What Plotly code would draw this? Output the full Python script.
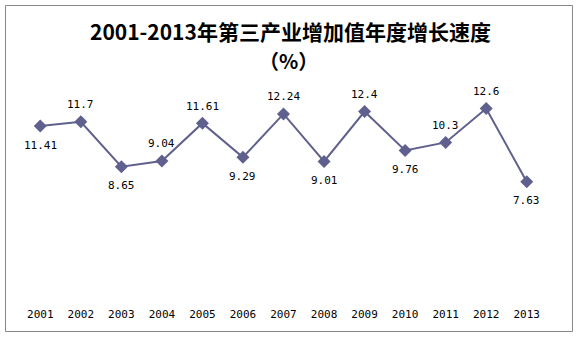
import plotly.graph_objects as go

years = ["2001","2002","2003","2004","2005","2006","2007","2008","2009","2010","2011","2012","2013"]
values = [11.41, 11.7, 8.65, 9.04, 11.61, 9.29, 12.24, 9.01, 12.4, 9.76, 10.3, 12.6, 7.63]
labels = ["11.41","11.7","8.65","9.04","11.61","9.29","12.24","9.01","12.4","9.76","10.3","12.6","7.63"]
above = [False, True, False, True, True, False, True, False, True, False, True, True, False]

W, H = 578, 337
L, R, T, B = 20, 31, 88, 43
pw, ph = W - L - R, H - T - B

fig = go.Figure()
fig.add_trace(go.Scatter(
    x=years, y=values, mode="lines+markers",
    line=dict(color="#60608F", width=2),
    marker=dict(symbol="diamond", size=10, color="#60608F"),
    cliponaxis=False, showlegend=False,
))

def px(x): return (x - L) / pw
def py(y): return (H - B - y) / ph

annotations = [
    dict(x=i, y=v, xref="x", yref="y", text=t, showarrow=False,
         xanchor="center", yanchor="middle", yshift=(17 if a else -19),
         font=dict(family="DejaVu Sans Mono", size=11, color="#000000"))
    for i, (v, t, a) in enumerate(zip(values, labels, above))
]
annotations += [
    dict(text="<b>2001-2013年第三产业增加值年度增长速度</b>", xref="paper", yref="paper",
         x=px(290), y=py(31), showarrow=False, xanchor="center", yanchor="middle",
         font=dict(family="Noto Sans CJK SC", size=21, color="#000000")),
    dict(text="<b>（%）</b>", xref="paper", yref="paper",
         x=px(288), y=py(60), showarrow=False, xanchor="center", yanchor="middle",
         font=dict(family="Noto Sans CJK SC", size=20, color="#000000")),
]

fig.update_layout(
    width=W, height=H,
    margin=dict(l=L, r=R, t=T, b=B),
    paper_bgcolor="white", plot_bgcolor="white",
    xaxis=dict(type="category", range=[-0.5, 12.5], showgrid=False, zeroline=False,
               showline=False, ticks="outside", ticklen=10, tickcolor="rgba(0,0,0,0)",
               tickfont=dict(family="DejaVu Sans Mono", size=11, color="#000000")),
    yaxis=dict(range=[0, 14], visible=False),
    shapes=[dict(type="rect", xref="paper", yref="paper",
                 x0=px(5.5), x1=px(572.5), y0=py(331.5), y1=py(5.5),
                 line=dict(color="#888888", width=1))],
    annotations=annotations,
)

fig.write_html("out.html")
